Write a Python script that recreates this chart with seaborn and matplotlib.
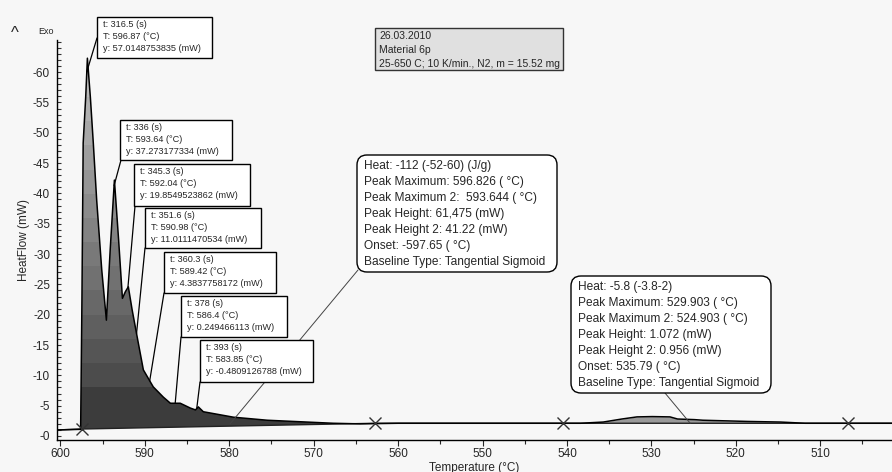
import numpy as np
import matplotlib
matplotlib.use("Agg")
import matplotlib.pyplot as plt
import seaborn as sns
from matplotlib.patches import Rectangle, FancyBboxPatch
from matplotlib.ticker import MultipleLocator, FuncFormatter
from matplotlib.transforms import IdentityTransform

# ---------------- data ----------------
temperature = [600.3, 597.6, 597.45, 597.3, 597.0, 596.8, 596.45, 596.1, 595.7, 595.1,
               594.55, 594.1, 593.6, 593.1, 592.65, 592.3, 591.95, 591.5, 590.9, 590.17,
               589.0, 587.8, 586.97, 585.8, 584.6, 584.0, 583.66, 583.07, 579.5, 575.5,
               567.7, 564.5, 560.0, 538.4, 535.7, 533.5, 531.7, 529.9, 527.8, 526.9,
               524.9, 523.9, 518.6, 514.7, 511.8, 501.5]
heat_flow = [-1.0, -1.1, -22.0, -48.3, -55.9, -62.3, -55.9, -48.3, -38.9, -27.4,
             -19.1, -30.7, -42.2, -32.3, -22.7, -23.8, -24.6, -20.8, -16.3, -10.9,
             -8.1, -6.4, -5.4, -5.4, -4.6, -4.3, -4.8, -4.0, -3.1, -2.6,
             -2.1, -2.0, -2.1, -2.1, -2.3, -2.8, -3.15, -3.2, -3.15, -2.8,
             -2.7, -2.6, -2.4, -2.3, -2.1, -2.1]

baseline_T = [600.3, 597.55, 562.7, 501.5]
baseline_HF = [-1.0, -1.15, -2.1, -2.1]

main_limits = [597.6, 562.7]
small_limits = [538.4, 511.8]

marker_T = [597.4, 562.7, 540.5, 506.7]
marker_HF = [-1.15, -2.1, -2.1, -2.1]

point_texts = [
    "t: 316.5 (s)\nT: 596.87 (°C)\ny: 57.0148753835 (mW)",
    "t: 336 (s)\nT: 593.64 (°C)\ny: 37.273177334 (mW)",
    "t: 345.3 (s)\nT: 592.04 (°C)\ny: 19.8549523862 (mW)",
    "t: 351.6 (s)\nT: 590.98 (°C)\ny: 11.0111470534 (mW)",
    "t: 360.3 (s)\nT: 589.42 (°C)\ny: 4.3837758172 (mW)",
    "t: 378 (s)\nT: 586.4 (°C)\ny: 0.249466113 (mW)",
    "t: 393 (s)\nT: 583.85 (°C)\ny: -0.4809126788 (mW)",
]
point_T = [596.87, 593.64, 592.0, 590.98, 589.42, 586.4, 583.85]

peak1_text = ("Heat: -112 (-52-60) (J/g)\nPeak Maximum: 596.826 ( °C)\n"
              "Peak Maximum 2:  593.644 ( °C)\nPeak Height: 61,475 (mW)\n"
              "Peak Height 2: 41.22 (mW)\nOnset: -597.65 ( °C)\n"
              "Baseline Type: Tangential Sigmoid")
peak1_target = [579.9, -2.0]
peak2_text = ("Heat: -5.8 (-3.8-2)\nPeak Maximum: 529.903 ( °C)\n"
              "Peak Maximum 2: 524.903 ( °C)\nPeak Height: 1.072 (mW)\n"
              "Peak Height 2: 0.956 (mW)\nOnset: 535.79 ( °C)\n"
              "Baseline Type: Tangential Sigmoid")
peak2_target = [525.4, -2.1]
info_text = "26.03.2010\nMaterial 6p\n25-650 C; 10 K/min., N2, m = 15.52 mg"

x_label = "Temperature (°C)"
y_label = "HeatFlow (mW)"

# ---------------- layout (pixels) ----------------
W, H = 892, 472
point_boxes = [(97, 17, 212, 58), (120, 120, 232, 160), (134, 164, 250, 206),
               (145, 208, 261, 248), (164, 252, 276, 293), (181, 296, 287, 337),
               (200, 340, 313, 382)]
point_anchor = [(97, 38), (121, 160), (135, 206), (145, 248), (164, 293),
                (181, 337), (200, 382)]

sns.set_theme(style="ticks")
plt.rcParams['font.family'] = ['Liberation Sans', 'DejaVu Sans']
BG = '#f7f7f7'

fig = plt.figure(figsize=(W / 100, H / 100), dpi=100, facecolor=BG)
ax = fig.add_axes([57 / W, (H - 440) / H, (W - 57) / W, 400 / H])
ax.set_facecolor(BG)

T = np.array(temperature)
HF = np.array(heat_flow)

# main peak fill with gradient
m = (T <= main_limits[0]) & (T >= main_limits[1])
Tm, HFm = T[m], HF[m]
b0, b1 = baseline_HF[1], baseline_HF[2]
t0, t1 = baseline_T[1], baseline_T[2]
base_m = b0 + (Tm - t0) * (b1 - b0) / (t1 - t0)
fill = ax.fill_between(Tm, HFm, base_m, facecolor='none', edgecolor='none')
path = fill.get_paths()[0]
vv = np.linspace(0, 66, 400)
gray = np.where(vv < 8, 0.24, 0.30 + 0.48 * np.floor((vv - 8) / 4) * 4 / 54)
gray = np.clip(gray, 0, 0.82)
im = ax.imshow(gray[:, None], extent=(598.0, 562.0, 0, -66), origin='lower',
               cmap='gray', vmin=0, vmax=1, aspect='auto', zorder=1,
               interpolation='nearest')
im.set_clip_path(path, ax.transData)

# small peak fill
s = (T <= small_limits[0]) & (T >= small_limits[1])
ax.fill_between(T[s], HF[s], baseline_HF[-1], color='#9a9a9a', lw=0, zorder=1)

# baseline + curve
ax.plot(baseline_T, baseline_HF, color='#222222', lw=1.0, zorder=2)
sns.lineplot(x=temperature, y=heat_flow, sort=False, estimator=None,
             color='black', lw=1.1, ax=ax, zorder=3)
ax.plot(marker_T, marker_HF, ls='none', marker='x', ms=8, mew=1.0,
        color='#333333', zorder=4)

ax.set_xlim(600.4, 501.5)
ax.set_ylim(0.66, -65.3)

ax.set_yticks(np.arange(0, -61, -5))
ax.yaxis.set_minor_locator(MultipleLocator(1))
ax.yaxis.set_major_formatter(FuncFormatter(lambda v, _: f"-{abs(v):.0f}"))
ax.xaxis.set_major_locator(MultipleLocator(10))
ax.xaxis.set_minor_locator(MultipleLocator(5))
ax.tick_params(axis='y', which='both', direction='in', length=3, width=0.8,
               labelsize=8.5, pad=5, color='#333333')
ax.tick_params(axis='x', which='major', direction='out', length=4, width=0.8,
               labelsize=8.5, pad=2)
ax.tick_params(axis='x', which='minor', direction='out', length=3, width=0.8)
for sp in ['top', 'right']:
    ax.spines[sp].set_visible(False)
for sp in ['left', 'bottom']:
    ax.spines[sp].set_color('black')
    ax.spines[sp].set_linewidth(1.0)
ax.set_xlabel(x_label, fontsize=8.5, labelpad=1)
ax.set_ylabel(y_label, fontsize=8.5, labelpad=2)

idt = IdentityTransform()


def px(x, y):
    return x, H - y


# point annotation boxes
for txt, tval, box, anc in zip(point_texts, point_T, point_boxes, point_anchor):
    x0, y0, x1, y1 = box
    hv = np.interp(tval, T[::-1], HF[::-1])
    ax.annotate('', xy=(tval, hv), xycoords='data', xytext=px(*anc),
                textcoords='figure pixels',
                arrowprops=dict(arrowstyle='-', color='black', lw=0.9,
                                shrinkA=0, shrinkB=0), zorder=5)
    r = Rectangle(px(x0, y1), x1 - x0, y1 - y0, transform=idt, fc='white',
                  ec='black', lw=1.0, zorder=6)
    fig.add_artist(r)
    fig.text(*px(x0 + 6, y0 + 3), txt, transform=idt, fontsize=6.6,
             va='top', ha='left', linespacing=1.4, zorder=7)

# big rounded boxes
for txt, tgt, box, anc in [(peak1_text, peak1_target, (357, 155, 557, 272), (358, 270)),
                           (peak2_text, peak2_target, (571, 276, 771, 393), (665, 393))]:
    x0, y0, x1, y1 = box
    ax.annotate('', xy=tuple(tgt), xycoords='data', xytext=px(*anc),
                textcoords='figure pixels',
                arrowprops=dict(arrowstyle='-', color='#444444', lw=0.7,
                                shrinkA=0, shrinkB=0), zorder=5)
    r = FancyBboxPatch(px(x0, y1), x1 - x0, y1 - y0,
                       boxstyle='round,pad=0,rounding_size=10', transform=idt,
                       fc='white', ec='black', lw=1.0, zorder=6)
    fig.add_artist(r)
    fig.text(*px(x0 + 7, y0 + 5), txt, transform=idt, fontsize=8.6,
             va='top', ha='left', linespacing=1.44, zorder=7)

# info box
x0, y0, x1, y1 = 375, 28, 563, 70
fig.add_artist(Rectangle(px(x0, y1), x1 - x0, y1 - y0, transform=idt,
                         fc='#e0e0e0', ec='#333333', lw=1.0, zorder=6))
fig.text(*px(x0 + 4, y0 + 3), info_text, transform=idt, fontsize=7.5,
         va='top', ha='left', linespacing=1.5, zorder=7)

# Exo marker
fig.text(*px(11, 33), "^", transform=idt, fontsize=12, va='center', ha='left')
fig.text(*px(38, 31), "Exo", transform=idt, fontsize=6.5, va='center', ha='left')

fig.savefig("out.png", dpi=100, facecolor=BG)
